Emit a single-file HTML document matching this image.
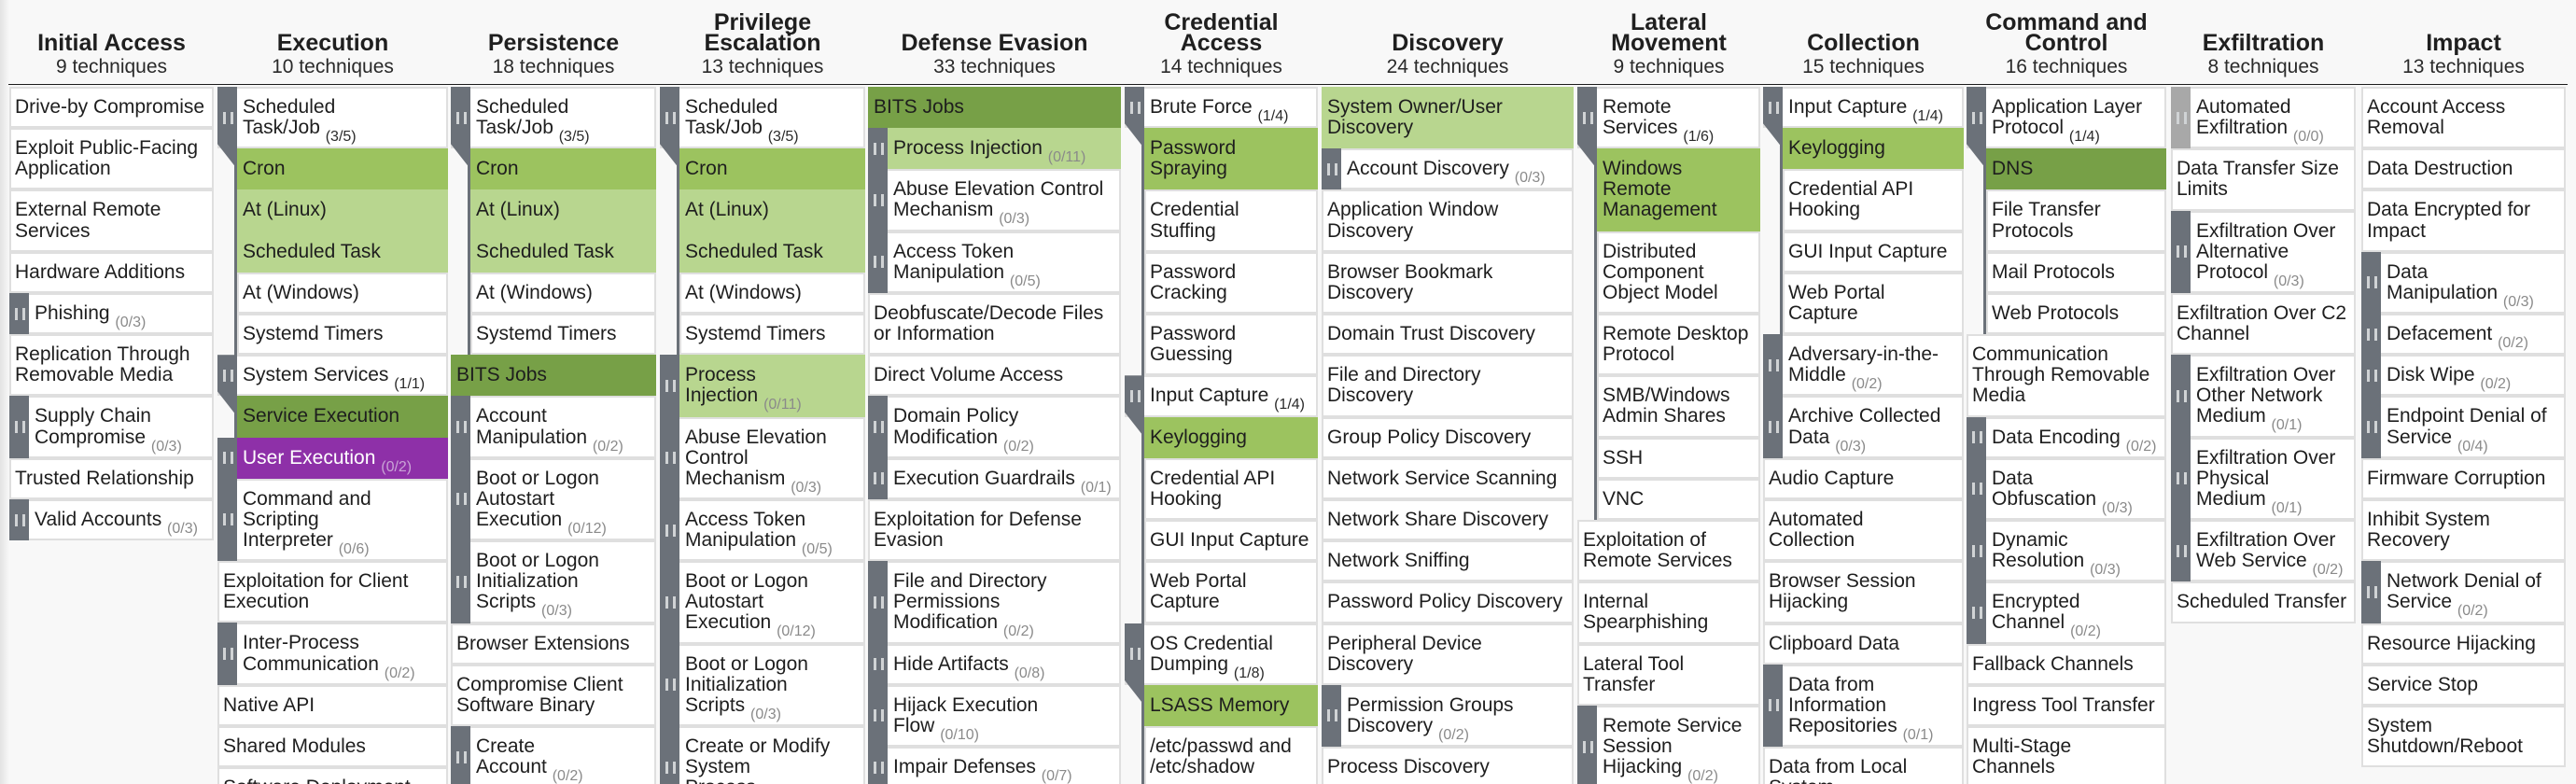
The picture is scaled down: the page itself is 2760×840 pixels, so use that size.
<!DOCTYPE html>
<html style="height:840px;overflow:hidden"><head><meta charset="utf-8"><style>
html,body{margin:0;padding:0;width:2760px;height:840px;overflow:hidden}
body{background:#f8f8f8;font-family:"Liberation Sans",Arial,sans-serif;color:#1e1e1e}
#w{position:relative;width:2760px;height:840px;overflow:hidden;background:#f8f8f8}
.sh{position:absolute;left:0;top:0;width:10px;height:840px;background:linear-gradient(to right,#e3e3e3,#f8f8f8)}
.ln{position:absolute;left:9px;top:90px;width:2742px;height:1px;background:#1c1c1c}
.hd{position:absolute;top:0;height:84px;display:flex;flex-direction:column;justify-content:flex-end;align-items:center;text-align:center}
.hd b{font-size:25px;line-height:22px;margin-bottom:3px;font-weight:bold;color:#1f1f1f;white-space:nowrap}
.hd span{font-size:21px;line-height:24px;color:#2a2a2a;white-space:nowrap}
.col{position:absolute;top:93px}
.c{position:relative;box-sizing:border-box;border:2px solid #dfdfdf;background:#fff;padding:9px 2px 0 4px;font-size:21px;line-height:22.1px;white-space:nowrap;height:44.2px}
.h2{height:66.3px}.h3{height:88.4px}
.sb{padding-left:25px}
.sb:before{content:"";position:absolute;left:4.3px;top:calc(50% - 6.5px);width:11px;height:13px;border-left:3px solid #d0d3d5;border-right:3px solid #d0d3d5;box-sizing:border-box;z-index:2}
.sb:after{content:"";position:absolute;left:-2px;top:-2px;bottom:-2px;width:21px;background:#6b7179;z-index:1}
.lt:after{background:#a8a8a8}
.x:after{display:none}
.s{margin-left:21px}
.dg{background:#77a047;border-color:#77a047}
.mg{background:#9cc35f;border-color:#9cc35f}
.lg{background:#b8d68f;border-color:#b8d68f}
.pu{background:#8e30a8;border-color:#8e30a8;color:#fff}
.pu small{color:#c9a3d6}
small{font-size:16px;color:#8a8a8a;position:relative;top:8px}
small.k{color:#2a2a2a}
.g{position:relative}
.g>.bar{position:absolute;left:0;top:0;width:21px;background:#6b7179;z-index:1;clip-path:polygon(0 0,100% 0,100% 100%,18px 100%,0 calc(100% - 23px))}
.g>.st{position:absolute;left:18px;top:0;bottom:0;width:3px;background:#6b7179;z-index:1}
</style></head><body>
<div id="w">
<div class="sh"></div>
<div class="ln"></div>

<div class="hd" style="left:10px;width:219px"><b>Initial Access</b><span>9 techniques</span></div>
<div class="hd" style="left:233px;width:247px"><b>Execution</b><span>10 techniques</span></div>
<div class="hd" style="left:483px;width:220px"><b>Persistence</b><span>18 techniques</span></div>
<div class="hd" style="left:707px;width:220px"><b>Privilege<br>Escalation</b><span>13 techniques</span></div>
<div class="hd" style="left:930px;width:271px"><b>Defense Evasion</b><span>33 techniques</span></div>
<div class="hd" style="left:1205px;width:207px"><b>Credential<br>Access</b><span>14 techniques</span></div>
<div class="hd" style="left:1416px;width:270px"><b>Discovery</b><span>24 techniques</span></div>
<div class="hd" style="left:1690px;width:196px"><b>Lateral<br>Movement</b><span>9 techniques</span></div>
<div class="hd" style="left:1889px;width:215px"><b>Collection</b><span>15 techniques</span></div>
<div class="hd" style="left:2107px;width:214px"><b>Command and<br>Control</b><span>16 techniques</span></div>
<div class="hd" style="left:2326px;width:198px"><b>Exfiltration</b><span>8 techniques</span></div>
<div class="hd" style="left:2530px;width:219px"><b>Impact</b><span>13 techniques</span></div>

<!-- Initial Access -->
<div class="col" style="left:10px;width:219px">
<div class="c">Drive-by Compromise</div>
<div class="c h2">Exploit Public-Facing<br>Application</div>
<div class="c h2">External Remote<br>Services</div>
<div class="c">Hardware Additions</div>
<div class="c sb">Phishing <small>(0/3)</small></div>
<div class="c h2">Replication Through<br>Removable Media</div>
<div class="c h2 sb">Supply Chain<br>Compromise <small>(0/3)</small></div>
<div class="c">Trusted Relationship</div>
<div class="c sb">Valid Accounts <small>(0/3)</small></div>
</div>

<!-- Execution -->
<div class="col" style="left:233px;width:247px">
<div class="g"><i class="bar" style="height:84.3px"></i><i class="st"></i>
<div class="c h2 sb x">Scheduled<br>Task/Job <small class="k">(3/5)</small></div>
<div class="c s mg">Cron</div>
<div class="c s lg">At (Linux)</div>
<div class="c s lg">Scheduled Task</div>
<div class="c s">At (Windows)</div>
<div class="c s">Systemd Timers</div>
</div>
<div class="g"><i class="bar" style="height:62.2px"></i><i class="st"></i>
<div class="c sb x">System Services <small class="k">(1/1)</small></div>
<div class="c s dg">Service Execution</div>
</div>
<div class="c sb pu">User Execution <small>(0/2)</small></div>
<div class="c h3 sb">Command and<br>Scripting<br>Interpreter <small>(0/6)</small></div>
<div class="c h2">Exploitation for Client<br>Execution</div>
<div class="c h2 sb">Inter-Process<br>Communication <small>(0/2)</small></div>
<div class="c">Native API</div>
<div class="c">Shared Modules</div>
<div class="c h2">Software Deployment<br>Tools</div>
</div>

<!-- Persistence -->
<div class="col" style="left:483px;width:220px">
<div class="g"><i class="bar" style="height:84.3px"></i><i class="st"></i>
<div class="c h2 sb x">Scheduled<br>Task/Job <small class="k">(3/5)</small></div>
<div class="c s mg">Cron</div>
<div class="c s lg">At (Linux)</div>
<div class="c s lg">Scheduled Task</div>
<div class="c s">At (Windows)</div>
<div class="c s">Systemd Timers</div>
</div>
<div class="c dg">BITS Jobs</div>
<div class="c h2 sb">Account<br>Manipulation <small>(0/2)</small></div>
<div class="c h3 sb">Boot or Logon<br>Autostart<br>Execution <small>(0/12)</small></div>
<div class="c h3 sb">Boot or Logon<br>Initialization<br>Scripts <small>(0/3)</small></div>
<div class="c">Browser Extensions</div>
<div class="c h2">Compromise Client<br>Software Binary</div>
<div class="c h2 sb">Create<br>Account <small>(0/2)</small></div>
</div>

<!-- Privilege Escalation -->
<div class="col" style="left:707px;width:220px">
<div class="g"><i class="bar" style="height:84.3px"></i><i class="st"></i>
<div class="c h2 sb x">Scheduled<br>Task/Job <small class="k">(3/5)</small></div>
<div class="c s mg">Cron</div>
<div class="c s lg">At (Linux)</div>
<div class="c s lg">Scheduled Task</div>
<div class="c s">At (Windows)</div>
<div class="c s">Systemd Timers</div>
</div>
<div class="c h2 sb lg">Process<br>Injection <small>(0/11)</small></div>
<div class="c h3 sb">Abuse Elevation<br>Control<br>Mechanism <small>(0/3)</small></div>
<div class="c h2 sb">Access Token<br>Manipulation <small>(0/5)</small></div>
<div class="c h3 sb">Boot or Logon<br>Autostart<br>Execution <small>(0/12)</small></div>
<div class="c h3 sb">Boot or Logon<br>Initialization<br>Scripts <small>(0/3)</small></div>
<div class="c h3 sb">Create or Modify<br>System<br>Process <small>(0/4)</small></div>
</div>

<!-- Defense Evasion -->
<div class="col" style="left:930px;width:271px">
<div class="c dg">BITS Jobs</div>
<div class="c sb lg">Process Injection <small>(0/11)</small></div>
<div class="c h2 sb">Abuse Elevation Control<br>Mechanism <small>(0/3)</small></div>
<div class="c h2 sb">Access Token<br>Manipulation <small>(0/5)</small></div>
<div class="c h2">Deobfuscate/Decode Files<br>or Information</div>
<div class="c">Direct Volume Access</div>
<div class="c h2 sb">Domain Policy<br>Modification <small>(0/2)</small></div>
<div class="c sb">Execution Guardrails <small>(0/1)</small></div>
<div class="c h2">Exploitation for Defense<br>Evasion</div>
<div class="c h3 sb">File and Directory<br>Permissions<br>Modification <small>(0/2)</small></div>
<div class="c sb">Hide Artifacts <small>(0/8)</small></div>
<div class="c h2 sb">Hijack Execution<br>Flow <small>(0/10)</small></div>
<div class="c sb">Impair Defenses <small>(0/7)</small></div>
</div>

<!-- Credential Access -->
<div class="col" style="left:1205px;width:207px">
<div class="g"><i class="bar" style="height:62.2px"></i><i class="st"></i>
<div class="c sb x">Brute Force <small class="k">(1/4)</small></div>
<div class="c h2 s mg">Password<br>Spraying</div>
<div class="c h2 s">Credential<br>Stuffing</div>
<div class="c h2 s">Password<br>Cracking</div>
<div class="c h2 s">Password<br>Guessing</div>
</div>
<div class="g"><i class="bar" style="height:62.2px"></i><i class="st"></i>
<div class="c sb x">Input Capture <small class="k">(1/4)</small></div>
<div class="c s mg">Keylogging</div>
<div class="c h2 s">Credential API<br>Hooking</div>
<div class="c s">GUI Input Capture</div>
<div class="c h2 s">Web Portal<br>Capture</div>
</div>
<div class="g"><i class="bar" style="height:84.3px"></i><i class="st"></i>
<div class="c h2 sb x">OS Credential<br>Dumping <small class="k">(1/8)</small></div>
<div class="c s mg">LSASS Memory</div>
<div class="c h2 s">/etc/passwd and<br>/etc/shadow</div>
<div class="c s">Cached Domain</div>
</div>
</div>

<!-- Discovery -->
<div class="col" style="left:1416px;width:270px">
<div class="c h2 lg">System Owner/User<br>Discovery</div>
<div class="c sb">Account Discovery <small>(0/3)</small></div>
<div class="c h2">Application Window<br>Discovery</div>
<div class="c h2">Browser Bookmark<br>Discovery</div>
<div class="c">Domain Trust Discovery</div>
<div class="c h2">File and Directory<br>Discovery</div>
<div class="c">Group Policy Discovery</div>
<div class="c">Network Service Scanning</div>
<div class="c">Network Share Discovery</div>
<div class="c">Network Sniffing</div>
<div class="c">Password Policy Discovery</div>
<div class="c h2">Peripheral Device<br>Discovery</div>
<div class="c h2 sb">Permission Groups<br>Discovery <small>(0/2)</small></div>
<div class="c">Process Discovery</div>
</div>

<!-- Lateral Movement -->
<div class="col" style="left:1690px;width:196px">
<div class="g"><i class="bar" style="height:84.3px"></i><i class="st"></i>
<div class="c h2 sb x">Remote<br>Services <small class="k">(1/6)</small></div>
<div class="c h3 s mg">Windows<br>Remote<br>Management</div>
<div class="c h3 s">Distributed<br>Component<br>Object Model</div>
<div class="c h2 s">Remote Desktop<br>Protocol</div>
<div class="c h2 s">SMB/Windows<br>Admin Shares</div>
<div class="c s">SSH</div>
<div class="c s">VNC</div>
</div>
<div class="c h2">Exploitation of<br>Remote Services</div>
<div class="c h2">Internal<br>Spearphishing</div>
<div class="c h2">Lateral Tool<br>Transfer</div>
<div class="c h3 sb">Remote Service<br>Session<br>Hijacking <small>(0/2)</small></div>
</div>

<!-- Collection -->
<div class="col" style="left:1889px;width:215px">
<div class="g"><i class="bar" style="height:62.2px"></i><i class="st"></i>
<div class="c sb x">Input Capture <small class="k">(1/4)</small></div>
<div class="c s mg">Keylogging</div>
<div class="c h2 s">Credential API<br>Hooking</div>
<div class="c s">GUI Input Capture</div>
<div class="c h2 s">Web Portal<br>Capture</div>
</div>
<div class="c h2 sb">Adversary-in-the-<br>Middle <small>(0/2)</small></div>
<div class="c h2 sb">Archive Collected<br>Data <small>(0/3)</small></div>
<div class="c">Audio Capture</div>
<div class="c h2">Automated<br>Collection</div>
<div class="c h2">Browser Session<br>Hijacking</div>
<div class="c">Clipboard Data</div>
<div class="c h3 sb">Data from<br>Information<br>Repositories <small>(0/1)</small></div>
<div class="c h2">Data from Local<br>System</div>
</div>

<!-- Command and Control -->
<div class="col" style="left:2107px;width:214px">
<div class="g"><i class="bar" style="height:84.3px"></i><i class="st"></i>
<div class="c h2 sb x">Application Layer<br>Protocol <small class="k">(1/4)</small></div>
<div class="c s dg">DNS</div>
<div class="c h2 s">File Transfer<br>Protocols</div>
<div class="c s">Mail Protocols</div>
<div class="c s">Web Protocols</div>
</div>
<div class="c h3">Communication<br>Through Removable<br>Media</div>
<div class="c sb">Data Encoding <small>(0/2)</small></div>
<div class="c h2 sb">Data<br>Obfuscation <small>(0/3)</small></div>
<div class="c h2 sb">Dynamic<br>Resolution <small>(0/3)</small></div>
<div class="c h2 sb">Encrypted<br>Channel <small>(0/2)</small></div>
<div class="c">Fallback Channels</div>
<div class="c">Ingress Tool Transfer</div>
<div class="c h2">Multi-Stage<br>Channels</div>
</div>

<!-- Exfiltration -->
<div class="col" style="left:2326px;width:198px">
<div class="c h2 sb lt">Automated<br>Exfiltration <small>(0/0)</small></div>
<div class="c h2">Data Transfer Size<br>Limits</div>
<div class="c h3 sb">Exfiltration Over<br>Alternative<br>Protocol <small>(0/3)</small></div>
<div class="c h2">Exfiltration Over C2<br>Channel</div>
<div class="c h3 sb">Exfiltration Over<br>Other Network<br>Medium <small>(0/1)</small></div>
<div class="c h3 sb">Exfiltration Over<br>Physical<br>Medium <small>(0/1)</small></div>
<div class="c h2 sb">Exfiltration Over<br>Web Service <small>(0/2)</small></div>
<div class="c">Scheduled Transfer</div>
</div>

<!-- Impact -->
<div class="col" style="left:2530px;width:219px">
<div class="c h2">Account Access<br>Removal</div>
<div class="c">Data Destruction</div>
<div class="c h2">Data Encrypted for<br>Impact</div>
<div class="c h2 sb">Data<br>Manipulation <small>(0/3)</small></div>
<div class="c sb">Defacement <small>(0/2)</small></div>
<div class="c sb">Disk Wipe <small>(0/2)</small></div>
<div class="c h2 sb">Endpoint Denial of<br>Service <small>(0/4)</small></div>
<div class="c">Firmware Corruption</div>
<div class="c h2">Inhibit System<br>Recovery</div>
<div class="c h2 sb">Network Denial of<br>Service <small>(0/2)</small></div>
<div class="c">Resource Hijacking</div>
<div class="c">Service Stop</div>
<div class="c h2">System<br>Shutdown/Reboot</div>
</div>
</div>
</body></html>
